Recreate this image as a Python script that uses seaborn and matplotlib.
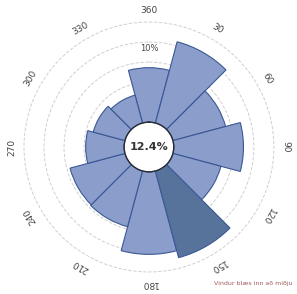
import numpy as np
import pandas as pd
import seaborn as sns
import matplotlib.pyplot as plt

# Wind rose data (percent of time per 30 degree sector)
directions = [0, 30, 60, 90, 120, 150, 180, 210, 240, 270, 300, 330]
frequency = [6.8, 10.5, 6.8, 8.7, 6.2, 11.2, 10.3, 7.2, 7.1, 4.8, 4.1, 3.6]
highlight = ['no', 'no', 'no', 'no', 'no', 'yes', 'no', 'no', 'no', 'no', 'no', 'no']
calm_text = '12.4%'
ring_values = [2.5, 5.0, 7.5, 10.0, 12.5]
tick_labels = ['360', '30', '60', '90', '120', '150', '180', '210', '240', '270', '300', '330']
note_text = 'Vindur blæs inn að miðju'

LIGHT = '#7f99d6'
DARK = '#4c71a6'
EDGE = '#3b5894'

df = pd.DataFrame({
    'theta': np.deg2rad(directions),
    'freq': frequency,
    'hl': highlight,
})

sns.set_style('white')

fig = plt.figure(figsize=(2.97, 2.94), dpi=100)
ax = fig.add_axes([0.074, 0.068, 0.855, 0.864], projection='polar')
ax.set_theta_zero_location('N')
ax.set_theta_direction(-1)
ax.set_rorigin(-3.1)

sns.barplot(data=df, x='theta', y='freq', hue='hl', native_scale=True,
            palette={'no': LIGHT, 'yes': DARK}, width=1.0, dodge=False,
            edgecolor=EDGE, linewidth=0.8, legend=False, ax=ax)

ax.set_ylim(0, 12.75)
ax.set_xlim(0, 2 * np.pi)
ax.set_xlabel('')
ax.set_ylabel('')
ax.set_xticks([])
ax.set_yticks(ring_values)
ax.set_yticklabels([])
ax.xaxis.grid(False)
ax.yaxis.grid(True, color='#c8c8c8', linestyle=(0, (4, 2)), linewidth=0.6)
ax.set_axisbelow(True)
ax.spines['polar'].set_visible(False)

# calm circle in the middle
circ_t = np.linspace(0, 2 * np.pi, 300)
ax.plot(circ_t, np.zeros_like(circ_t), color='#4a5f8a', linewidth=1.0, clip_on=False)
ax.text(0, -3.1, calm_text, ha='center', va='center', fontsize=8,
        fontweight='bold', color='#333333')

# ring label
ax.text(0, 9.25, '10%', ha='center', va='center', fontsize=6, color='#444444')

# direction labels, rotated along the circle
for d, lab in zip(directions, tick_labels):
    ax.text(np.deg2rad(d), 14.0, lab, ha='center', va='center', fontsize=6.5,
            color='#444444', rotation=-d, rotation_mode='anchor', clip_on=False)

fig.text(0.72, 0.035, note_text, fontsize=4.5, color='#a05a5a', ha='left', va='center')

fig.savefig('out.png', dpi=100)
